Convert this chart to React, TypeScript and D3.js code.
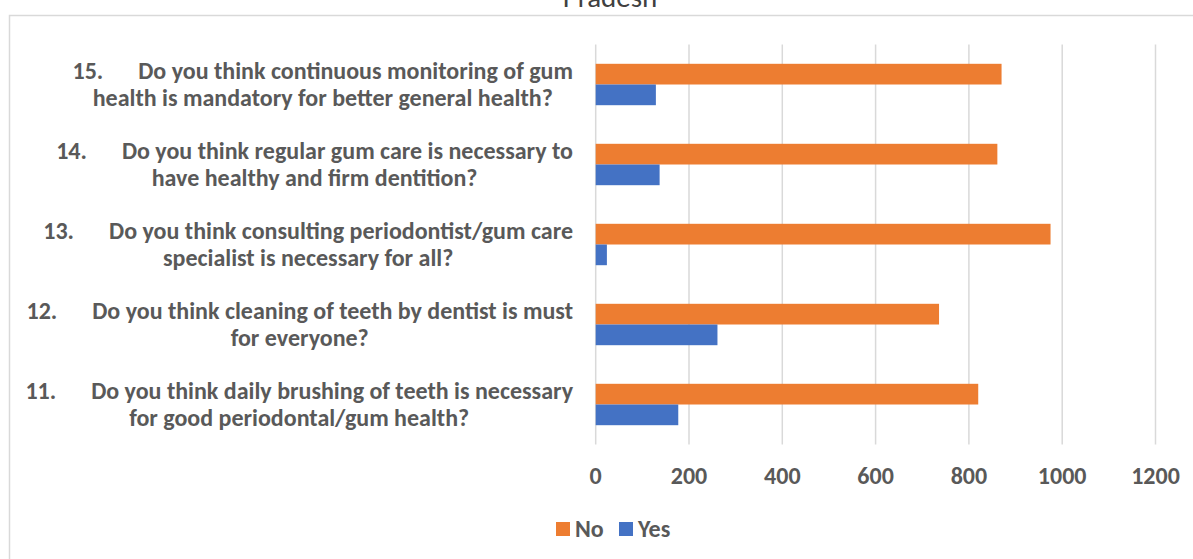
import React, { useEffect, useRef } from "react";
import * as d3 from "d3";

const questionNumbers = ["15.", "14.", "13.", "12.", "11."];
const questionLine1 = [
  "Do you think continuous monitoring of gum",
  "Do you think regular gum care is necessary to",
  "Do you think consulting periodontist/gum care",
  "Do you think cleaning of teeth by dentist is must",
  "Do you think daily brushing of teeth is necessary",
];
const questionLine2 = [
  "health is mandatory for better general health?",
  "have healthy and firm dentition?",
  "specialist is necessary for all?",
  "for everyone?",
  "for good periodontal/gum health?",
];
const noValues = [870, 861, 975, 736, 820];
const yesValues = [129, 137, 24, 261, 177];
const xTicks = [0, 200, 400, 600, 800, 1000, 1200];
const seriesNames = ["No", "Yes"];
const titleText = "Pradesh";

const W = 1193;
const H = 559;
const FONT = "Carlito, Calibri, Lato, 'Open Sans', sans-serif";
const TEXT = "#595959";
const GRID = "#D9D9D9";
const COLORS = ["#ED7D31", "#4472C4"];
const FS = 24;

export default function App() {
  const ref = useRef<SVGSVGElement>(null);

  useEffect(() => {
    const svg = d3.select(ref.current);
    svg.selectAll("*").remove();

    // chart border
    svg
      .append("rect")
      .attr("x", 9.5)
      .attr("y", 15.5)
      .attr("width", 1300)
      .attr("height", 700)
      .attr("fill", "#fff")
      .attr("stroke", GRID)
      .attr("stroke-width", 1.5);

    // title (cut at the top, as in the reference)
    svg
      .append("text")
      .attr("x", 610)
      .attr("y", 7)
      .attr("text-anchor", "middle")
      .attr("font-family", FONT)
      .attr("font-size", 29)
      .attr("fill", "#404040")
      .text(titleText);

    const x = d3.scaleLinear().domain([0, 1200]).range([595.7, 1155.5]);
    const idx = questionNumbers.map((_, i) => i);
    const y = d3
      .scaleBand<number>()
      .domain(idx)
      .range([44.5, 444.5])
      .paddingInner(0.4825)
      .paddingOuter(0.4825 / 2);
    const sub = d3
      .scaleBand<number>()
      .domain([0, 1])
      .range([0, y.bandwidth()]);

    // gridlines
    svg
      .append("g")
      .selectAll("line")
      .data(xTicks)
      .join("line")
      .attr("x1", (d) => x(d))
      .attr("x2", (d) => x(d))
      .attr("y1", 44.5)
      .attr("y2", 444.5)
      .attr("stroke", GRID)
      .attr("stroke-width", 1.5);

    // tick labels
    svg
      .append("g")
      .selectAll("text")
      .data(xTicks)
      .join("text")
      .attr("x", (d) => x(d))
      .attr("y", 483.5)
      .attr("text-anchor", "middle")
      .attr("font-family", FONT)
      .attr("font-weight", "bold")
      .attr("font-size", FS)
      .attr("fill", TEXT)
      .text((d) => String(d));

    // bars
    const series = [noValues, yesValues];
    series.forEach((vals, s) => {
      svg
        .append("g")
        .selectAll("rect")
        .data(vals)
        .join("rect")
        .attr("x", x(0))
        .attr("y", (_, i) => (y(i) as number) + (sub(s) as number))
        .attr("width", (d) => x(d) - x(0))
        .attr("height", sub.bandwidth())
        .attr("fill", COLORS[s]);
    });

    // category labels
    const rightEdge = 573;
    const gap = 35;
    idx.forEach((i) => {
      const c = (y(i) as number) + y.bandwidth() / 2;
      const g = svg.append("g");
      const t1 = g
        .append("text")
        .attr("y", c - 6)
        .attr("text-anchor", "middle")
        .attr("font-family", FONT)
        .attr("font-weight", "bold")
        .attr("font-size", FS)
        .attr("fill", TEXT);
      t1.append("tspan").text(questionNumbers[i]);
      t1.append("tspan").attr("dx", gap).text(questionLine1[i]);
      const t2 = g
        .append("text")
        .attr("y", c + 21)
        .attr("text-anchor", "middle")
        .attr("font-family", FONT)
        .attr("font-weight", "bold")
        .attr("font-size", FS)
        .attr("fill", TEXT)
        .text(questionLine2[i]);
      const w1 = (t1.node() as SVGTextElement).getComputedTextLength() + gap;
      const w2 = (t2.node() as SVGTextElement).getComputedTextLength();
      const cx = rightEdge - Math.max(w1, w2) / 2;
      t1.attr("x", cx);
      t2.attr("x", cx);
    });

    // legend
    const legendX = [556, 619];
    seriesNames.forEach((name, s) => {
      svg
        .append("rect")
        .attr("x", legendX[s])
        .attr("y", 522)
        .attr("width", 14)
        .attr("height", 14)
        .attr("fill", COLORS[s]);
      svg
        .append("text")
        .attr("x", legendX[s] + 19)
        .attr("y", 537)
        .attr("font-family", FONT)
        .attr("font-weight", "bold")
        .attr("font-size", FS)
        .attr("fill", TEXT)
        .text(name);
    });
  }, []);

  return (
    <svg
      ref={ref}
      width={W}
      height={H}
      style={{ position: "absolute", left: 0, top: 0, display: "block", background: "#fff" }}
    />
  );
}
